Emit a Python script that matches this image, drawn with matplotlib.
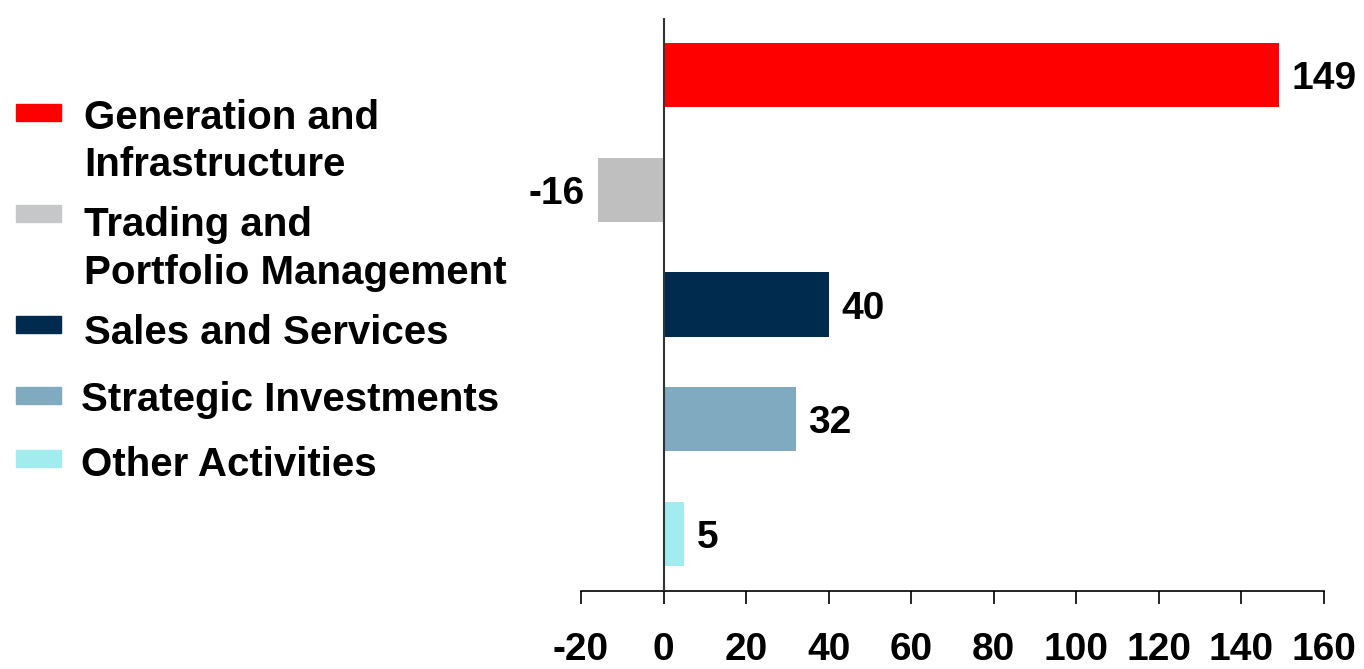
import matplotlib
matplotlib.use("Agg")
import matplotlib.pyplot as plt
from matplotlib.patches import Rectangle

categories = ["Generation and\nInfrastructure", "Trading and\nPortfolio Management",
              "Sales and Services", "Strategic Investments", "Other Activities"]
values = [149, -16, 40, 32, 5]
colors = ["#FF0000", "#BFBFBF", "#002A4E", "#7FAABF", "#A2EBEE"]
legend_colors = ["#FF0000", "#C6C7C8", "#002A4E", "#7FAABF", "#A2EBEE"]
xticks = [-20, 0, 20, 40, 60, 80, 100, 120, 140, 160]

plt.rcParams['font.family'] = ['Liberation Sans', 'DejaVu Sans']
W, H = 1364, 669
fig = plt.figure(figsize=(W / 100, H / 100), dpi=100)
ax = fig.add_axes([581 / W, 1 - 591 / H, (1324 - 581) / W, (591 - 18) / H])

ypos = list(range(len(values)))
ax.barh(ypos, values, height=0.56, color=colors, zorder=2)
ax.axvline(0, color="#333333", lw=1.5, zorder=3)

ax.set_xlim(-20, 160)
ax.set_ylim(4.5, -0.5)
ax.set_xticks(xticks)
ax.set_xticklabels([str(t) for t in xticks], fontsize=28, fontweight='bold')
ax.set_yticks([])
for s in ['left', 'right', 'top']:
    ax.spines[s].set_visible(False)
ax.spines['bottom'].set_linewidth(1.2)
ax.tick_params(axis='x', direction='out', length=9.5, width=1.2, pad=20)

for y, v in zip(ypos, values):
    if v >= 0:
        ax.annotate(str(v), (v, y), xytext=(9, -3), textcoords='offset points',
                    ha='left', va='center', fontsize=28, fontweight='bold')
    else:
        ax.annotate(str(v), (v, y), xytext=(-9, -3), textcoords='offset points',
                    ha='right', va='center', fontsize=28, fontweight='bold')

# legend (manual)
patch_y = [112, 213, 325, 395, 458]
text_y = [[118, 165], [225, 273], [333], [400], [465]]
text_x = [84, 84, 84, 81, 81]
for i, lab in enumerate(categories):
    yc = patch_y[i]
    fig.add_artist(Rectangle((16 / W, 1 - (yc + 8.5) / H), 45 / W, 17 / H,
                             transform=fig.transFigure, color=legend_colors[i]))
    for line, ty in zip(lab.split("\n"), text_y[i]):
        fig.text(text_x[i] / W, 1 - ty / H, line, fontsize=29, fontweight='bold',
                 ha='left', va='center')

fig.savefig("out.png", dpi=100)
